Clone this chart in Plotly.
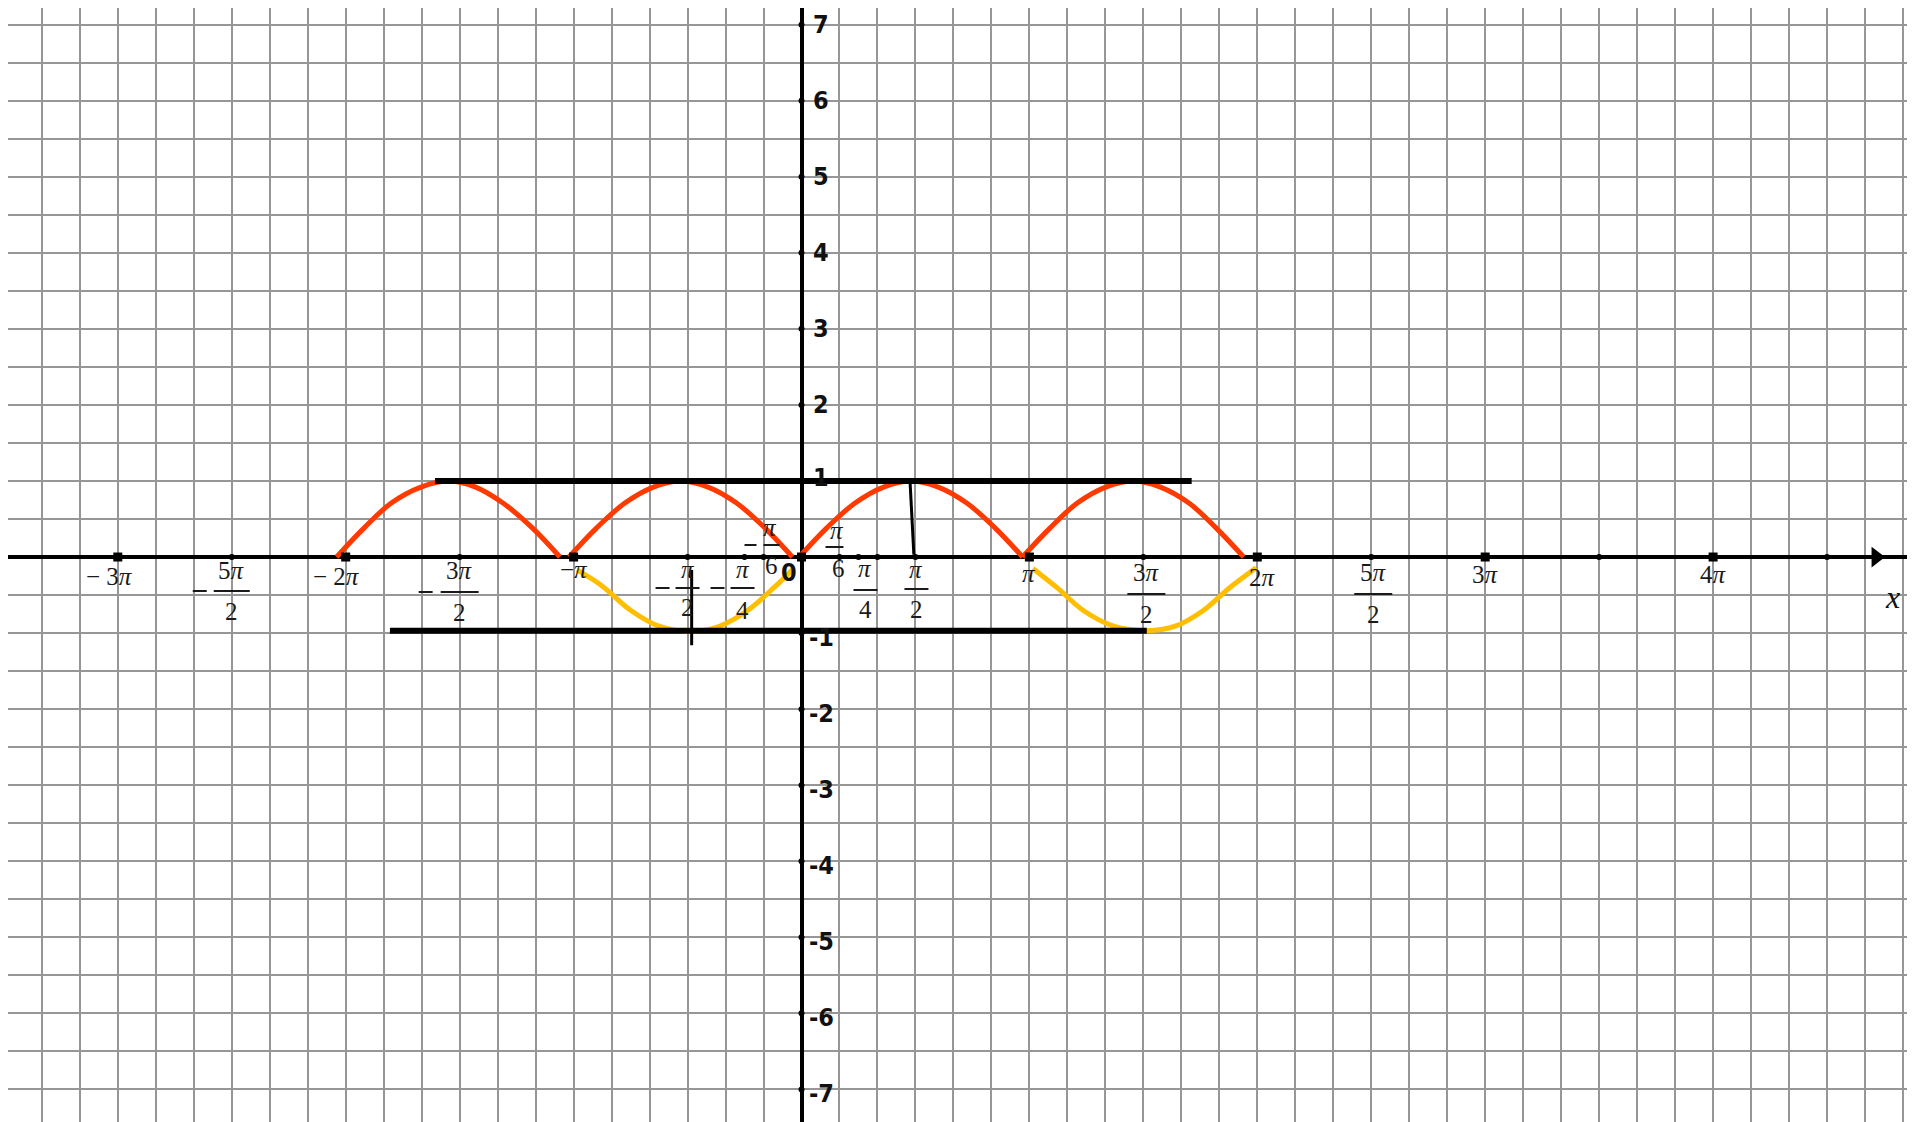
import plotly.graph_objects as go

# ---------------- data (x in units of pi) ----------------
red_x = [-2.04, -1.92, -1.80, -1.67, -1.55, -1.43, -1.31, -1.18, -1.06, None,
         -1.02, -0.90, -0.775, -0.65, -0.53, -0.41, -0.285, -0.16, -0.04, None,
         -0.01, 0.11, 0.235, 0.36, 0.48, 0.60, 0.725, 0.85, 0.97, None,
         0.97, 1.09, 1.21, 1.335, 1.455, 1.575, 1.70, 1.82, 1.94]
red_y = [0, 0.38, 0.71, 0.92, 1.0, 0.92, 0.71, 0.38, 0, None,
         0, 0.38, 0.71, 0.92, 1.0, 0.92, 0.71, 0.38, 0, None,
         0, 0.38, 0.71, 0.92, 1.0, 0.92, 0.71, 0.38, 0, None,
         0, 0.38, 0.71, 0.92, 1.0, 0.92, 0.71, 0.38, 0]

yellow_x = [-0.985, -0.875, -0.75, -0.625, -0.48, -0.36, -0.24, -0.12, -0.035, None,
            1.015, 1.12, 1.24, 1.37, 1.515, 1.64, 1.76, 1.88, 1.995]
yellow_y = [-0.17, -0.38, -0.70, -0.91, -0.98, -0.91, -0.71, -0.40, -0.15, None,
            -0.15, -0.40, -0.71, -0.91, -0.97, -0.91, -0.71, -0.40, -0.14]

# black guide segments
hline_top_x = [-1.608, 1.712]
hline_top_y = [1.0, 1.0]
hline_bot_x = [-1.806, 1.515]
hline_bot_y = [-0.97, -0.97]
vseg1_x = [0.476, 0.493]
vseg1_y = [1.01, 0.03]
vseg2_x = [-0.482, -0.482]
vseg2_y = [-0.17, -1.16]

# tick marks on the x axis
square_ticks = [-3, -2, -1, 0, 1, 2, 3, 4]
dot_ticks = [-2.5, -1.5, -0.5, -0.25, -1/6, 1/6, 0.25, 1/3, 0.5, 1.5, 2.5, 3.5, 4.5]
y_ticks = [-7, -6, -5, -4, -3, -2, -1, 1, 2, 3, 4, 5, 6, 7]
y_labels = ["-7", "-6", "-5", "-4", "-3", "-2", "-1", "1", "2", "3", "4", "5", "6", "7"]

# integer-multiple labels
int_ticks = [-3, -2, -1, 1, 2, 3, 4]
int_labels = ["− 3<i>π</i>", "− 2<i>π</i>", "−<i>π</i>", "<i>π</i>", "2<i>π</i>", "3<i>π</i>", "4<i>π</i>"]

# fraction labels below axis
frac_ticks = [-2.5, -1.5, -0.5, -0.25, 0.25, 0.5, 1.5, 2.5]
frac_num = ["5<i>π</i>", "3<i>π</i>", "<i>π</i>", "<i>π</i>", "<i>π</i>", "<i>π</i>", "3<i>π</i>", "5<i>π</i>"]
frac_den = ["2", "2", "2", "4", "4", "2", "2", "2"]
frac_neg = [True, True, True, True, False, False, False, False]

# ---------------- layout geometry ----------------
# page body has an 8px margin: plot pixel p sits at page pixel p + 8
X_RANGE = [-3.4818, 4.921]
Y_RANGE = [-7.534, 7.219]
LBL_FONT = dict(family="Liberation Serif, Times New Roman, serif", size=25, color="#1a1a1a")
YLBL_FONT = dict(family="Liberation Sans Narrow, DejaVu Sans Condensed, Arial Narrow, sans-serif",
                 size=25, color="#111111")

int_offsets = {-3: (-8, -19), -2: (-9, -19), -1: (0, -12), 1: (0, -16), 2: (5, -20), 3: (0, -17), 4: (0, -17)}
# tick: (xshift, num_y, bar_y, den_y, bar_w, minus_dx)
frac_offsets = {
    -2.5: (0, -13, -34, -54, 36, -32),
    -1.5: (0, -13, -35, -55, 38, -34),
    -0.5: (0, -12, -31, -50, 24, -25),
    -0.25: (-2, -12, -31, -53, 24, -25),
    0.25: (7, -11, -33, -52, 24, 0),
    0.5: (1, -12, -32, -52, 24, 0),
    1.5: (3, -15, -37, -57, 38, 0),
    2.5: (2, -15, -37, -57, 38, 0),
}

fig = go.Figure()

fig.add_trace(go.Scatter(x=red_x, y=red_y, mode="lines", connectgaps=False,
                         line=dict(color="#ff3a00", width=5, shape="spline")))
fig.add_trace(go.Scatter(x=yellow_x, y=yellow_y, mode="lines", connectgaps=False,
                         line=dict(color="#ffbf00", width=5, shape="spline")))
for gx, gy, w in [(hline_top_x, hline_top_y, 6), (hline_bot_x, hline_bot_y, 6),
                  (vseg1_x, vseg1_y, 3), (vseg2_x, vseg2_y, 3)]:
    fig.add_trace(go.Scatter(x=gx, y=gy, mode="lines", line=dict(color="black", width=w)))

# tick markers
fig.add_trace(go.Scatter(x=square_ticks, y=[0] * len(square_ticks), mode="markers",
                         marker=dict(symbol="square", size=9, color="black")))
fig.add_trace(go.Scatter(x=dot_ticks, y=[0] * len(dot_ticks), mode="markers",
                         marker=dict(symbol="circle", size=6, color="black")))
fig.add_trace(go.Scatter(x=[0] * len(y_ticks), y=y_ticks, mode="markers",
                         marker=dict(symbol="circle", size=6, color="black")))
# arrow head
fig.add_trace(go.Scatter(x=[4.715], y=[0], mode="markers",
                         marker=dict(symbol="triangle-right", size=18, color="black")))

ann = []
shapes = []
for t, lab in zip(int_ticks, int_labels):
    dx, dy = int_offsets[t]
    ann.append(dict(x=t, y=0, xref="x", yref="y", text=lab, showarrow=False,
                    xshift=dx, yshift=dy, font=LBL_FONT, xanchor="center", yanchor="middle"))
for t, num, den, neg in zip(frac_ticks, frac_num, frac_den, frac_neg):
    dx, ny, by, dyy, bw, mdx = frac_offsets[t]
    ann.append(dict(x=t, y=0, xref="x", yref="y", text=num, showarrow=False,
                    xshift=dx, yshift=ny, font=LBL_FONT, xanchor="center", yanchor="middle"))
    ann.append(dict(x=t, y=0, xref="x", yref="y", text=den, showarrow=False,
                    xshift=dx, yshift=dyy, font=LBL_FONT, xanchor="center", yanchor="middle"))
    shapes.append(dict(type="line", xref="x", yref="y", xsizemode="pixel", ysizemode="pixel",
                       xanchor=t, yanchor=0, x0=dx - bw / 2, x1=dx + bw / 2, y0=by, y1=by,
                       line=dict(color="#1a1a1a", width=2)))
    if neg:
        shapes.append(dict(type="line", xref="x", yref="y", xsizemode="pixel", ysizemode="pixel",
                           xanchor=t, yanchor=0, x0=dx + mdx - 7, x1=dx + mdx + 7, y0=by, y1=by,
                           line=dict(color="#1a1a1a", width=2)))

# -pi/6 and pi/6 labels (fraction bar above the axis)
for t, (pdx, pdy, bdx, bdy, bw, sdx, sdy, neg) in {
        -1/6: (6, 30, 8, 12, 16, 8, -8, True),
        1/6: (-2, 27, -5, 10, 18, -1, -11, False)}.items():
    ann.append(dict(x=t, y=0, xref="x", yref="y", text="<i>π</i>", showarrow=False,
                    xshift=pdx, yshift=pdy, font=LBL_FONT))
    ann.append(dict(x=t, y=0, xref="x", yref="y", text="6", showarrow=False,
                    xshift=sdx, yshift=sdy, font=LBL_FONT))
    shapes.append(dict(type="line", xref="x", yref="y", xsizemode="pixel", ysizemode="pixel",
                       xanchor=t, yanchor=0, x0=bdx - bw / 2, x1=bdx + bw / 2, y0=bdy, y1=bdy,
                       line=dict(color="#1a1a1a", width=2)))
    if neg:
        shapes.append(dict(type="line", xref="x", yref="y", xsizemode="pixel", ysizemode="pixel",
                           xanchor=t, yanchor=0, x0=bdx - 27, x1=bdx - 15, y0=bdy, y1=bdy,
                           line=dict(color="#1a1a1a", width=2)))

# origin "0"
ann.append(dict(x=0, y=0, xref="x", yref="y", text="<b>0</b>", showarrow=False,
                xshift=-13, yshift=-15, font=YLBL_FONT))

# y labels
for v, lab in zip(y_ticks, y_labels):
    if v > 0:
        xs, ys = 9, (3 if v == 1 else 0)
    else:
        xs, ys = 5, -4
    ann.append(dict(x=0, y=v, xref="x", yref="y", text="<b>" + lab + "</b>", showarrow=False,
                    xshift=xs, yshift=ys, font=YLBL_FONT, xanchor="left", yanchor="middle"))

# axis name
ann.append(dict(x=4.785, y=-0.526, xref="x", yref="y", text="<i>x</i>", showarrow=False,
                font=dict(family="Liberation Serif, serif", size=32, color="#111111")))

fig.update_layout(
    width=1915, height=1122,
    margin=dict(l=0, r=0, t=0, b=0, pad=0),
    paper_bgcolor="white", plot_bgcolor="white",
    showlegend=False, hovermode=False,
    annotations=ann, shapes=shapes,
    xaxis=dict(range=X_RANGE, dtick=1/6, tick0=0, showgrid=True, gridcolor="#969696", gridwidth=2,
               zeroline=True, zerolinecolor="black", zerolinewidth=4,
               showticklabels=False, ticks="", showline=False, fixedrange=True),
    yaxis=dict(range=Y_RANGE, dtick=0.5, tick0=0, showgrid=True, gridcolor="#969696", gridwidth=2,
               zeroline=True, zerolinecolor="black", zerolinewidth=4,
               showticklabels=False, ticks="", showline=False, fixedrange=True),
)

fig.write_html("out.html")
